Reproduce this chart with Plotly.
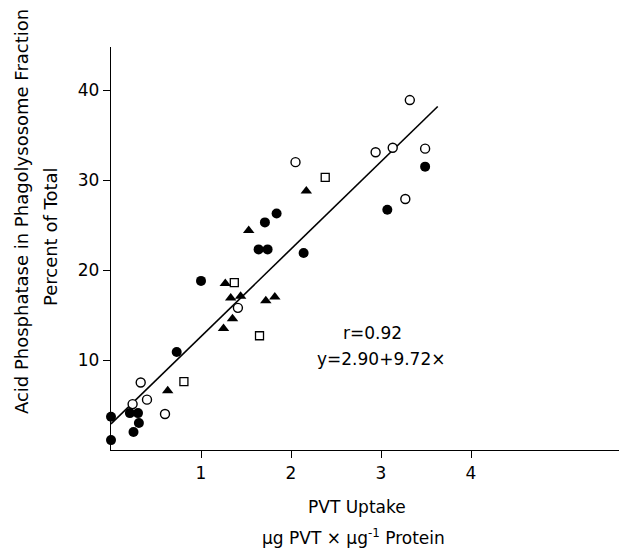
import plotly.graph_objects as go

# Data
open_circ_x = [3.32, 2.94, 3.13, 3.49, 2.05, 3.27, 1.41, 0.33, 0.40, 0.24, 0.60]
open_circ_y = [38.9, 33.1, 33.6, 33.5, 32.0, 27.9, 15.8, 7.5, 5.6, 5.1, 4.0]

fill_circ_x = [3.49, 3.07, 1.84, 1.71, 1.64, 1.74, 2.14, 1.00, 0.73, 0.0, 0.0, 0.21, 0.30, 0.31, 0.25]
fill_circ_y = [31.5, 26.7, 26.3, 25.3, 22.3, 22.3, 21.9, 18.8, 10.9, 3.7, 1.1, 4.1, 4.1, 3.0, 2.0]

tri_x = [2.17, 1.53, 1.27, 1.33, 1.44, 1.72, 1.82, 1.35, 1.25, 0.63]
tri_y = [28.8, 24.4, 18.5, 16.9, 17.1, 16.6, 17.0, 14.6, 13.5, 6.6]

sq_x = [2.38, 1.37, 1.65, 0.81]
sq_y = [30.3, 18.6, 12.7, 7.6]

fit_intercept = 2.90
fit_slope = 9.72
fit_x = [0.0, 3.63]
fit_y = [fit_intercept + fit_slope * v for v in fit_x]

x_ticks = [1, 2, 3, 4]
y_ticks = [10, 20, 30, 40]

FONT = "DejaVu Sans"
fig = go.Figure()

fig.add_trace(go.Scatter(x=fit_x, y=fit_y, mode="lines",
                         line=dict(color="black", width=1.6), cliponaxis=False))
fig.add_trace(go.Scatter(x=open_circ_x, y=open_circ_y, mode="markers", cliponaxis=False,
                         marker=dict(symbol="circle", size=9, color="white",
                                     line=dict(color="black", width=1.4))))
fig.add_trace(go.Scatter(x=fill_circ_x, y=fill_circ_y, mode="markers", cliponaxis=False,
                         marker=dict(symbol="circle", size=10, color="black",
                                     line=dict(color="black", width=0))))
fig.add_trace(go.Scatter(x=tri_x, y=tri_y, mode="markers", cliponaxis=False,
                         marker=dict(symbol="triangle-up", size=10, color="black",
                                     line=dict(color="black", width=0))))
fig.add_trace(go.Scatter(x=sq_x, y=sq_y, mode="markers", cliponaxis=False,
                         marker=dict(symbol="square", size=8, color="white",
                                     line=dict(color="black", width=1.3))))

axis_common = dict(showline=True, linecolor="black", linewidth=1.3, ticks="outside",
                   ticklen=7, tickwidth=1.2, tickcolor="black", showgrid=False,
                   zeroline=False, tickfont=dict(family=FONT, size=17, color="black"))

fig.update_layout(
    width=619, height=550,
    margin=dict(l=111, r=0, t=47, b=100),
    paper_bgcolor="white", plot_bgcolor="white",
    showlegend=False,
    xaxis=dict(range=[0, 5.644], tickvals=x_ticks, ticktext=[str(t) for t in x_ticks], **axis_common),
    yaxis=dict(range=[0, 44.8], tickvals=y_ticks, ticktext=[str(t) for t in y_ticks], **axis_common),
    font=dict(family=FONT, color="black"),
)

ann_font = dict(family=FONT, size=17, color="black")
fig.add_annotation(x=2.91, y=13.0, xref="x", yref="y", text="r=0.92", showarrow=False, font=ann_font)
fig.add_annotation(x=3.0, y=10.1, xref="x", yref="y", text="y=2.90+9.72×", showarrow=False, font=ann_font)

fig.add_annotation(x=0.4843, y=-0.1414, xref="paper", yref="paper", text="PVT Uptake",
                   showarrow=False, font=ann_font, xanchor="center", yanchor="middle")
fig.add_annotation(x=0.478, y=-0.2159, xref="paper", yref="paper",
                   text="μg PVT × μg<sup>-1</sup> Protein",
                   showarrow=False, font=ann_font, xanchor="center", yanchor="middle")
fig.add_annotation(x=-0.175, y=0.5906, xref="paper", yref="paper",
                   text="Acid Phosphatase in Phagolysosome Fraction", textangle=-90,
                   showarrow=False, font=dict(family=FONT, size=18, color="black"),
                   xanchor="center", yanchor="middle")
fig.add_annotation(x=-0.120, y=0.5285, xref="paper", yref="paper",
                   text="Percent of Total", textangle=-90,
                   showarrow=False, font=dict(family=FONT, size=18, color="black"),
                   xanchor="center", yanchor="middle")

fig.write_html("out.html", config={"displayModeBar": False},
               post_script="document.body.style.margin='0';document.body.style.overflow='hidden';")
